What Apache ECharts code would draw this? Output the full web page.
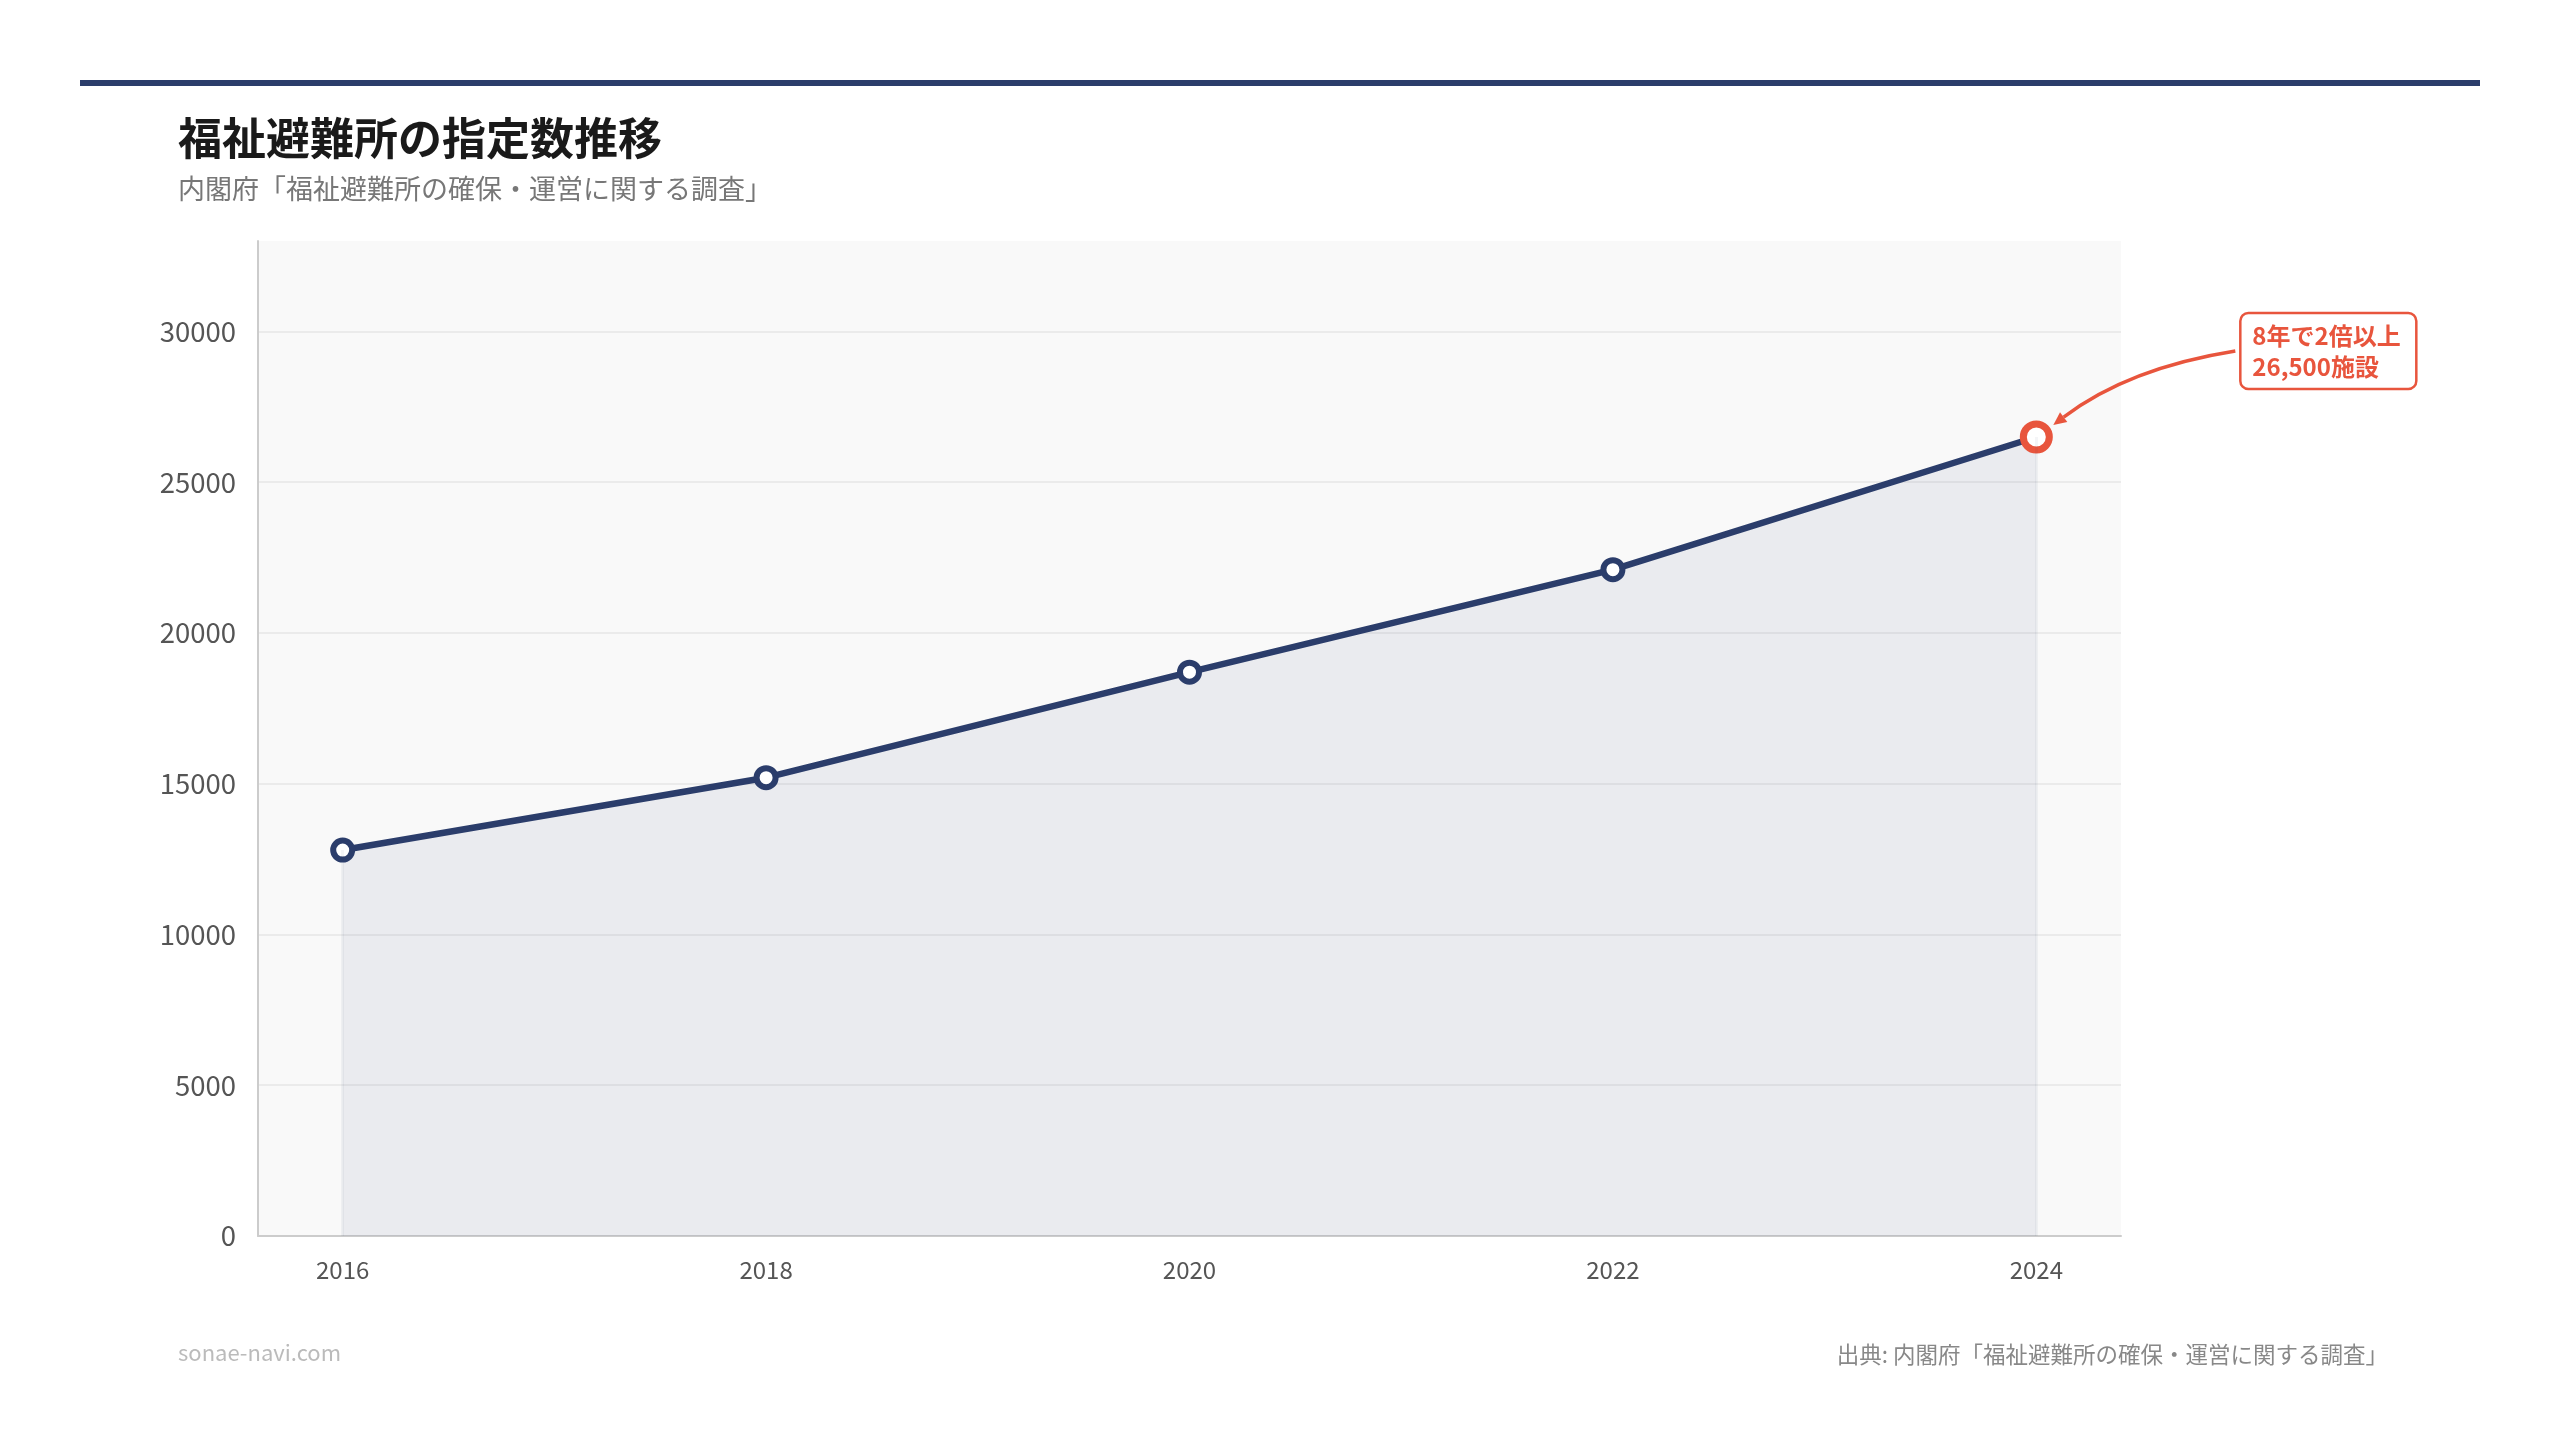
<!DOCTYPE html>
<html>
<head>
<meta charset="UTF-8">
<title>福祉避難所の指定数推移</title>
<script src="https://cdn.jsdelivr.net/npm/echarts@6/dist/echarts.min.js"></script>
<style>
  html, body { margin: 0; padding: 0; background: #fff; }
  #main { width: 2560px; height: 1445px; }
</style>
</head>
<body>
<div id="main"></div>
<script>
// データ
var years = [2016, 2018, 2020, 2022, 2024];
var counts = [12800, 15200, 18700, 22100, 26500];
var titleText = '福祉避難所の指定数推移';
var subText = '内閣府「福祉避難所の確保・運営に関する調査」';
var noteLines = ['8年で2倍以上', '26,500施設'];
var siteText = 'sonae-navi.com';
var sourceText = '出典: 内閣府「福祉避難所の確保・運営に関する調査」';

var NAVY = '#2b3d6b';
var RED = '#e8553d';
var FONT = '"Noto Sans CJK JP", "Noto Sans", sans-serif';

var chart = echarts.init(document.getElementById('main'));

var points = years.map(function (y, i) {
  var d = { value: [y, counts[i]] };
  if (i === years.length - 1) {
    d.symbolSize = 26;
    d.itemStyle = { color: '#fff', borderColor: RED, borderWidth: 7 };
  }
  return d;
});

var option = {
  backgroundColor: '#fff',
  textStyle: { fontFamily: FONT },
  animation: false,
  title: [
    {
      text: titleText, left: 178, top: 116, padding: 0,
      textStyle: { fontSize: 44, fontWeight: 'bold', color: '#1a1a1a', fontFamily: FONT }
    },
    {
      text: subText, left: 178, top: 175, padding: 0,
      textStyle: { fontSize: 27, fontWeight: 'normal', color: '#777', fontFamily: FONT }
    }
  ],
  grid: {
    left: 258, right: 439, top: 241, bottom: 209,
    show: true, backgroundColor: '#f9f9f9', borderWidth: 0
  },
  xAxis: {
    type: 'value',
    min: 2015.6,
    max: 2024.4,
    axisLine: { show: true, lineStyle: { color: '#cccccc', width: 2 } },
    axisTick: { show: false },
    splitLine: { show: false },
    axisLabel: {
      customValues: years,
      formatter: function (v) { return String(v); },
      fontSize: 24, color: '#555', margin: 22, fontFamily: FONT
    }
  },
  yAxis: {
    type: 'value',
    min: 0,
    max: 33000,
    interval: 5000,
    axisLine: { show: true, lineStyle: { color: '#cccccc', width: 2 } },
    axisTick: { show: false },
    splitLine: { show: true, showMaxLine: false, lineStyle: { color: '#ebebeb', width: 2 } },
    axisLabel: {
      showMaxLabel: false,
      formatter: function (v) { return String(v); },
      fontSize: 27.5, color: '#555', margin: 22, fontFamily: FONT
    }
  },
  series: [{
    type: 'line',
    data: points,
    symbol: 'circle',
    symbolSize: 19,
    itemStyle: { color: '#fff', borderColor: NAVY, borderWidth: 6 },
    lineStyle: { color: NAVY, width: 6.5 },
    areaStyle: { color: NAVY, opacity: 0.07 },
    markLine: {
      silent: true,
      symbol: 'none',
      label: { show: false },
      lineStyle: { color: 'rgba(43,61,107,0.05)', width: 3, type: 'solid' },
      data: [
        [{ coord: [years[0], 0] }, { coord: [years[0], counts[0]] }],
        [{ coord: [years[4], 0] }, { coord: [years[4], counts[4]] }]
      ]
    }
  }]
};

chart.setOption(option);

// 注釈（最後の点の位置から配置）
var last = chart.convertToPixel({ seriesIndex: 0 }, [years[years.length - 1], counts[counts.length - 1]]);
var px = last[0], py = last[1];
var sx = px + 199, sy = py - 86;   // 矢印の始点
var cx = px + 92, cy = py - 69;    // 制御点
var ex = px + 17, ey = py - 12;    // 矢印の先端
var dx = ex - cx, dy = ey - cy;
var len = Math.sqrt(dx * dx + dy * dy);
dx /= len; dy /= len;
var headL = 13, headW = 6;
var bx = ex - dx * headL, by = ey - dy * headL;

chart.setOption({
  graphic: [
    {
      type: 'rect', left: 80, top: 80,
      shape: { width: 2400, height: 6 },
      style: { fill: NAVY }
    },
    {
      type: 'bezierCurve',
      shape: { x1: sx, y1: sy, x2: bx, y2: by, cpx1: cx, cpy1: cy },
      style: { stroke: RED, lineWidth: 3.5, fill: null },
      z: 100
    },
    {
      type: 'polygon',
      shape: { points: [[ex, ey], [bx - dy * headW, by + dx * headW], [bx + dy * headW, by - dx * headW]] },
      style: { fill: RED },
      z: 100
    },
    {
      type: 'rect',
      shape: { x: px + 204, y: py - 124, width: 176, height: 76, r: 8 },
      style: { fill: '#fff', stroke: RED, lineWidth: 2.5 },
      z: 100
    },
    {
      type: 'text',
      x: px + 216, y: py - 86,
      style: {
        text: noteLines.join('\n'),
        fontSize: 24, fontWeight: 'bold', lineHeight: 31,
        fill: RED, fontFamily: FONT,
        textAlign: 'left', textVerticalAlign: 'middle'
      },
      z: 101
    },
    {
      type: 'text', x: 178, y: 1353,
      style: {
        text: siteText, fontSize: 22, fill: '#bbbbbb', fontFamily: FONT,
        textAlign: 'left', textVerticalAlign: 'middle'
      }
    },
    {
      type: 'text', x: 2388, y: 1354,
      style: {
        text: sourceText, fontSize: 22.5, fill: '#888888', fontFamily: FONT,
        textAlign: 'right', textVerticalAlign: 'middle'
      }
    }
  ]
});
</script>
</body>
</html>
